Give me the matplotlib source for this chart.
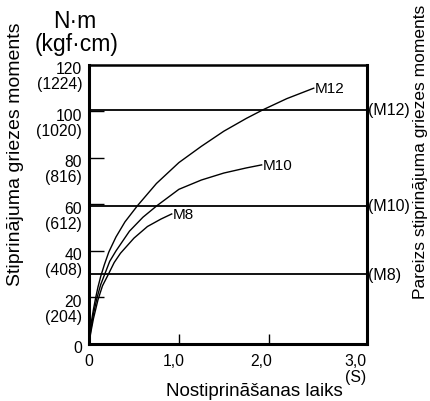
import matplotlib
matplotlib.use("Agg")
import matplotlib.pyplot as plt
from matplotlib import transforms

plt.rcParams['font.family'] = ['Liberation Sans', 'DejaVu Sans']

# curves: (time s, torque N·m)
m12_t = [0, 0.02, 0.05, 0.075, 0.1, 0.13, 0.17, 0.22, 0.3, 0.4, 0.54, 0.75, 1.0,
         1.25, 1.5, 1.75, 1.94, 2.2, 2.5]
m12_v = [0, 8, 15, 20, 24.5, 29, 34, 39.5, 46, 52.5, 59.5, 69, 78,
         85, 91.5, 97, 100.8, 105.5, 110]
m10_t = [0, 0.02, 0.05, 0.09, 0.13, 0.175, 0.23, 0.3, 0.45, 0.6, 0.757, 1.0, 1.25,
         1.5, 1.75, 1.92]
m10_v = [0, 6, 13, 20, 25.5, 30, 35.5, 40, 48.5, 54.5, 59.5, 66.5, 70.5,
         73.5, 75.7, 77]
m8_t = [0, 0.02, 0.05, 0.1, 0.15, 0.216, 0.28, 0.35, 0.5, 0.65, 0.8, 0.92]
m8_v = [0, 5, 11, 19, 25, 30, 35, 39, 45.5, 50.5, 53.7, 55.9]

curve_names = ["M12", "M10", "M8"]
# correct tightening torque per size
ref_names = ["(M12)", "(M10)", "(M8)"]
ref_values = [100.8, 59.5, 30]

y_ticks = [0, 20, 40, 60, 80, 100, 120]
y_kgf = ["", "(204)", "(408)", "(612)", "(816)", "(1020)", "(1224)"]
x_ticks = [0, 1.0, 2.0, 3.0]
x_labels = ["0", "1,0", "2,0", "3,0"]
x_shift = [0, -5, -8, -3]   # labels in the original sit slightly left of the ticks

fig = plt.figure(figsize=(4.3, 4.02), dpi=100)
ax = fig.add_axes([0.207, 0.142, 0.646, 0.694])
ax.set_xlim(0, 3.09)
ax.set_ylim(0, 120)

for t, v, name in zip([m12_t, m10_t, m8_t], [m12_v, m10_v, m8_v], curve_names):
    ax.plot(t, v, color="black", lw=1.0, solid_joinstyle="round")
    ax.text(t[-1] + 0.01, v[-1], name, fontsize=11, va="center", ha="left")

for v, name in zip(ref_values, ref_names):
    ax.axhline(v, color="black", lw=1.3)
    ax.text(1.003, v, name, transform=ax.get_yaxis_transform(),
            fontsize=11.5, va="center", ha="left")

for s in ["left", "bottom", "right"]:
    ax.spines[s].set_linewidth(2.2)
ax.spines["top"].set_linewidth(1.8)

ax.set_yticks(y_ticks[1:-1])
ax.set_yticklabels([])
ax.tick_params(axis="y", direction="in", length=11, width=1)
ax.set_xticks(x_ticks[1:-1])
ax.set_xticklabels([])
ax.tick_params(axis="x", direction="in", length=7, width=1)

ytr = ax.get_yaxis_transform()
for v, k in zip(y_ticks, y_kgf):
    num = transforms.offset_copy(ytr, fig=fig, x=0, y=-4, units="dots")
    ax.text(-0.025, v, str(v), transform=num, fontsize=11.3, ha="right", va="center")
    if k:
        off = transforms.offset_copy(ytr, fig=fig, x=0, y=-19, units="dots")
        ax.text(-0.025, v, k, transform=off, fontsize=11.3, ha="right", va="center")

xtr = ax.get_xaxis_transform()
for x, lab, dx in zip(x_ticks, x_labels, x_shift):
    tr = transforms.offset_copy(xtr, fig=fig, x=dx, y=-17, units="dots")
    ax.text(x, 0, lab, transform=tr, fontsize=11.3, ha="center", va="center")
tr = transforms.offset_copy(xtr, fig=fig, x=-3, y=-33, units="dots")
ax.text(3.0, 0, "(S)", transform=tr, fontsize=11.3, ha="center", va="center")

fig.text(254 / 430, 1 - 392 / 402, "Nostiprināšanas laiks", fontsize=13.5,
         ha="center", va="center")
fig.text(75 / 430, 1 - 22 / 402, "N·m", fontsize=16.5, ha="center", va="center")
fig.text(77 / 430, 1 - 45 / 402, "(kgf·cm)", fontsize=16.5, ha="center", va="center")
fig.text(16 / 430, 1 - 154 / 402, "Stiprinājuma griezes moments", fontsize=14,
         rotation=90, ha="center", va="center")
fig.text(421 / 430, 1 - 152 / 402, "Pareizs stiprinājuma griezes moments", fontsize=12.5,
         rotation=90, ha="center", va="center")

fig.savefig("out.png", dpi=100)
